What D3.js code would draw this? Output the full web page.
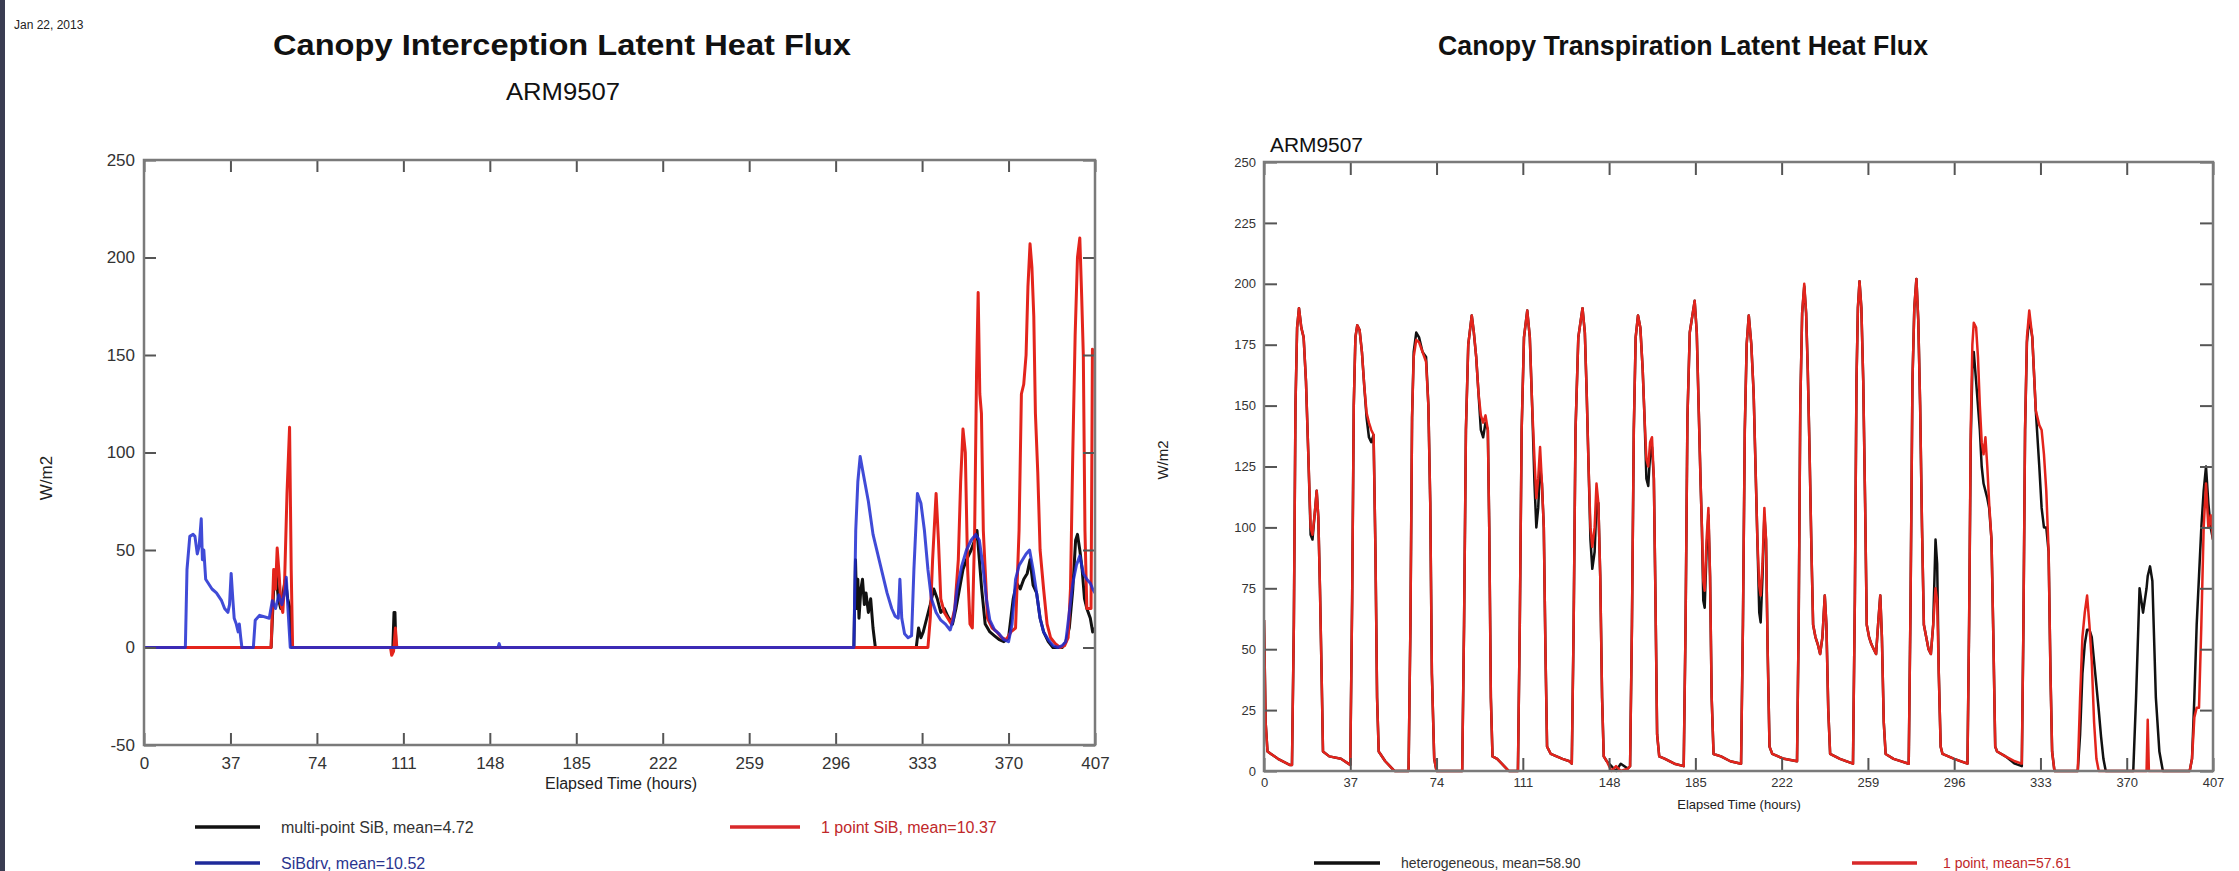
<!DOCTYPE html>
<html>
<head>
<meta charset="utf-8">
<script src="https://cdn.jsdelivr.net/npm/d3@7"></script>
<style>
  html, body { margin: 0; padding: 0; background: #fff; }
  svg { display: block; font-family: "Liberation Sans", Arial, sans-serif; }
</style>
</head>
<body>
<svg id="chart" width="2239" height="871"></svg>
<script>
// ---------------- DATA ----------------
const xTicks = [0, 37, 74, 111, 148, 185, 222, 259, 296, 333, 370, 407];
const leftYTicks = [-50, 0, 50, 100, 150, 200, 250];
const rightYTicks = [0, 25, 50, 75, 100, 125, 150, 175, 200, 225, 250];

const leftTitle = "Canopy Interception Latent Heat Flux";
const rightTitle = "Canopy Transpiration Latent Heat Flux";
const siteName = "ARM9507";
const dateLabel = "Jan 22, 2013";
const xLabel = "Elapsed Time (hours)";
const yLabel = "W/m2";

const leftLegend = ["multi-point SiB, mean=4.72", "1 point SiB, mean=10.37", "SiBdrv, mean=10.52"];
const rightLegend = ["heterogeneous, mean=58.90", "1 point, mean=57.61"];

// Interception: [hour, W/m2]
const multiPointSiB = [[0,0],[54.4,0],[55.5,30],[56.5,38],[57.5,25],[58.5,20],[59.5,28],[60.5,35],[61.5,25],[62.5,20],[63.3,0],
  [106.5,0],[107,18],[107.4,18],[107.8,0],[303.8,0],[304.5,45],[305,20],[305.5,35],[306,15],[306.8,30],[307.5,35],[308.3,22],
  [309,28],[310,18],[311,25],[312,10],[313,0],[330.5,0],[331.5,10],[332.5,5],[333.5,8],[335,15],[336.5,22],[338,30],[339.5,25],
  [341,18],[342.5,20],[344,16],[346,12],[347.5,20],[349,30],[350.5,40],[352,45],[354,50],[355.5,55],[356.5,60],[357.5,45],
  [358.5,30],[360,12],[362,8],[364,6],[366,4],[368,3],[370,5],[372,25],[373.5,33],[375,30],[376.5,35],[378,38],[379.2,45],
  [380.5,32],[382,28],[383.5,15],[385,8],[387,3],[389,0],[393,0],[394.5,3],[396,10],[397.5,30],[398.7,55],[399.5,58],
  [400.5,50],[401.5,40],[402.5,25],[403.5,20],[405,15],[406,8],[407,10]];

const onePointSiB = [[0,0],[54.4,0],[55.5,40],[56.3,30],[57,51],[57.8,38],[58.6,22],[59.4,18],[60.2,35],[61.2,79],[62.3,113],
  [63,40],[63.6,0],[105.5,0],[106,-4],[106.8,-2],[107.6,10],[108.2,0],[335.5,0],[336.5,15],[337.5,45],[339,79],[340,55],
  [341,25],[342.5,18],[344,15],[345.5,12],[347,20],[348.5,45],[349.5,85],[350.5,112],[351.5,100],[352.5,40],[353.5,12],
  [354.5,10],[355.5,60],[356.3,140],[357,182],[357.7,130],[358.4,120],[359.2,60],[360,40],[361,15],[363,10],[365,8],
  [367,5],[369,4],[371,8],[373,10],[374.5,60],[375.5,130],[376.5,135],[377.5,150],[378.3,185],[379.2,207],[380,195],
  [380.8,170],[381.5,120],[382.5,90],[383.5,50],[385,30],[386.5,12],[388,5],[390,2],[392,0],[394,1],[395.5,5],[396.5,30],
  [397.5,100],[398.5,160],[399.5,200],[400.5,210],[401.3,180],[402,150],[402.7,60],[403.5,20],[405.3,20],[405.9,153],[407,150]];

const sibDrv = [[0,0],[17.7,0],[18.4,40],[19.6,57],[21,58],[21.8,57],[22.8,48],[23.6,52],[24.5,66],[25,45],[25.6,50],
  [26.4,35],[29.1,30],[31,28],[33.2,24],[34.5,20],[35.9,18],[36.6,22],[37.3,38],[38,25],[38.6,15],[39.5,12],[40.3,8],
  [40.8,12],[41.4,5],[41.9,0],[46.8,0],[47.6,14],[49.5,16.5],[53.6,15],[54.9,24],[56.3,20],[57.7,27],[59,22],[60.5,30],
  [60.9,36],[61.6,20],[62.6,0],[151.5,0],[152,2],[152.5,0],[303.8,0],[304.6,60],[305.5,85],[306.5,98],[308,88],[310,75],
  [312,58],[314,48],[316,38],[318,28],[320,20],[321.5,16],[322.8,15],[323.5,35],[324.3,15],[325.5,7],[327,5],[328.5,6],
  [329.5,40],[331,79],[332.5,74],[334,60],[335.5,40],[337,25],[339,18],[341,14],[343,12],[345,9],[346.5,15],[348,30],
  [350,42],[352,50],[354,55],[356,58],[357.5,55],[359,42],[360.5,25],[362,14],[364,9],[366,7],[368,4],[370,3],[371.5,12],
  [373,35],[374.5,42],[376,45],[377.5,48],[379,50],[380.5,40],[382,28],[383.5,15],[385,8],[387,4],[389,1],[391,0],[393,1],
  [394.5,3],[396,18],[397.5,33],[399,42],[400.5,47],[402,38],[403.5,35],[405,33],[406,30],[407,28]];

// Transpiration: shared hours, two series
const transHours = [0,0.7,1.5,6,11,
  12,12.8,13.5,14.2,15,16,17,18,19,20,20.8,21.7,22.6,23.3,24,24.7,25.3,28,33,
  37,37.8,38.5,39.2,40,41,42,43,44,45,46,47,47.8,48.5,49.2,52,55,56,
  62,62.8,63.5,64.2,65.3,66.5,68,69.5,70.5,71.3,72,73,74,
  85,85.8,86.6,87.6,89.1,90,91,92,93,94,95,96,96.6,97.3,98,100,104,105,
  108.9,109.7,110.5,111.5,112.9,114,115,116,116.8,117.6,118.4,119.2,120,120.7,121.4,123,128,131,
  132,132.8,133.6,134.8,136.6,137.6,138.4,139.2,140,140.8,141.8,142.6,143.4,144.2,145,145.7,147,149,151,153,156,
  157,157.8,158.6,159.4,160.4,161.4,162.4,163.2,164,164.8,165.6,166.4,167.2,167.9,168.6,169.5,172,176,
  180,180.8,181.6,182.6,184.7,185.6,186.4,187.2,187.8,188.4,189,189.8,190.6,191.3,192,192.8,196,200,
  204.6,205.4,206.2,207,207.9,209,210,210.8,211.6,212.4,213,213.8,214.6,215.3,216,216.8,218,223,
  228.6,229.3,230,230.8,231.7,232.5,233.2,234,234.8,235.5,236.5,237.5,238.5,239.5,240.5,241.2,242,242.8,247,
  252.6,253.4,254.1,254.7,255.4,256.2,257,257.8,258.5,259.5,260.5,261.5,262.5,263.5,264.3,265,265.8,266.6,270,
  276.5,277.3,278.1,278.9,279.8,280.6,281.4,282.2,283,284,285,286,287,288,288.7,289.4,290.2,291,296,
  301.7,302.4,303.1,303.8,304.4,305.4,306.2,307,307.8,308.6,309.4,310.2,311,312,312.8,313.6,314.4,318,322,
  325,325.7,326.4,327.2,328.2,329.5,331,332.5,333.5,334.5,335.5,336.5,337.3,338,339,
  349,350,351,352,353,354,355,356,357,358,359,360,361,
  372.8,374,375.5,377,378.5,379,379.5,380,381,382.5,384,385.5,
  397,398,399,400,401,402,403,404,405,406,407];

const transOnePoint = [62,20,8,5,2.5,
  2.5,60,150,182,190,182,178,160,130,100,97,105,115,104,75,40,8,6,5,
  2.5,70,150,178,183,181,172,158,147,143,140,138,90,30,8,4,1,0,
  0,60,145,170,177,176,172,168,150,110,40,5,0,
  0,60,140,175,187,180,170,155,146,143,146,140,100,30,6,5,1,0,
  0,60,140,178,189,178,150,128,112,120,133,118,100,50,10,7,5,4,
  3,60,140,178,190,180,155,125,100,92,100,118,110,80,30,6,4,0,2,0,1,
  2,60,140,178,187,182,165,145,128,125,135,137,120,70,15,6,5,3,
  2,60,145,180,193,180,150,120,100,78,74,95,108,80,30,7,6,4,
  3,60,140,175,187,175,155,125,95,76,72,85,108,95,50,10,7,5,
  4,60,150,188,200,188,165,130,90,60,55,52,48,55,72,60,25,7,5,
  3,70,160,190,201,190,160,110,60,55,52,50,48,62,72,55,20,7,5,
  3,70,160,190,202,185,150,100,60,55,50,48,60,75,70,40,10,7,5,
  3,60,140,175,184,182,170,150,135,130,137,125,110,95,55,10,8,6,4,
  3,60,140,178,189,178,148,142,140,130,115,90,40,8,0,
  0,30,55,65,72,60,45,20,5,0,0,0,0,
  0,0,0,0,0,21,0,0,0,0,0,0,
  0,5,22,26,26,60,100,118,100,105,95];

const transHetero = [62,20,8,5,2.5,
  2.5,60,150,182,190,182,178,160,130,97,95,105,115,104,75,40,8,6,5,
  2.5,70,150,178,183,181,172,158,145,137,135,138,90,30,8,4,1,0,
  0,60,145,172,180,178,172,170,150,110,40,5,0,
  0,60,140,175,187,180,170,155,140,137,143,140,100,30,6,5,1,0,
  0,60,140,178,189,178,150,118,100,108,125,118,100,50,10,7,5,4,
  3,60,140,178,190,180,155,125,95,83,90,110,110,80,30,6,4,2,0,3,1,
  2,60,140,178,187,182,165,145,120,117,130,133,120,70,15,6,5,3,
  2,60,145,180,193,180,150,120,100,70,67,90,105,80,30,7,6,4,
  3,60,140,175,187,175,155,125,95,65,61,80,105,95,50,10,7,5,
  4,60,150,188,199,188,165,130,90,60,55,52,48,55,72,60,25,7,5,
  3,70,160,190,201,190,160,110,60,55,52,50,48,62,72,55,20,7,5,
  3,70,160,190,202,185,150,100,60,55,50,48,60,95,85,40,10,7,5,
  3,60,135,165,172,160,150,140,125,118,115,112,108,95,55,10,8,6,3,
  2,60,140,176,186,178,148,125,108,100,100,90,40,8,0,
  0,15,40,52,58,58,55,45,35,25,14,5,0,
  0,30,75,65,75,80,82,84,78,30,8,0,
  0,5,30,60,80,100,115,125,110,100,95];

// ---------------- DRAWING ----------------
const svg = d3.select("#chart");
svg.append("rect").attr("width", 2239).attr("height", 871).attr("fill", "#fff");
svg.append("rect").attr("x", 0).attr("y", 0).attr("width", 5).attr("height", 871).attr("fill", "#3a3c52");

const FRAME = "#7a7a7a";
const TEXT = "#222";
const fmt = d => String(d); // plain hyphen minus, as in the original

function drawFrame(g, x, y, opts) {
  const [x0, x1] = x.range();
  const [y0, y1] = y.range(); // y0 bottom, y1 top
  const bottom = g.append("g").attr("transform", `translate(0,${y0})`)
    .call(d3.axisBottom(x).tickValues(xTicks).tickSize(-opts.tick).tickPadding(opts.xPad).tickFormat(fmt));
  const top = g.append("g").attr("transform", `translate(0,${y1})`)
    .call(d3.axisTop(x).tickValues(xTicks).tickSize(-opts.tick).tickFormat(""));
  const left = g.append("g").attr("transform", `translate(${x0},0)`)
    .call(d3.axisLeft(y).tickValues(opts.yTicks).tickSize(-opts.tick).tickPadding(opts.yPad).tickFormat(fmt));
  const right = g.append("g").attr("transform", `translate(${x1},0)`)
    .call(d3.axisRight(y).tickValues(opts.yTicks).tickSize(-opts.tick).tickFormat(""));
  [bottom, top, left, right].forEach(a => {
    a.select(".domain").remove();
    a.selectAll(".tick line").attr("stroke", "#555").attr("stroke-width", 2);
    a.selectAll(".tick text").attr("fill", "#333").attr("font-size", opts.fontSize)
      .attr("font-family", '"Liberation Sans", Arial, sans-serif');
  });
  g.append("rect").attr("x", x0).attr("y", y1).attr("width", x1 - x0).attr("height", y0 - y1)
    .attr("fill", "none").attr("stroke", FRAME).attr("stroke-width", 2.5);
}

function drawSeries(g, x, y, data, color, width, clipId, opacity) {
  const line = d3.line().x(d => x(d[0])).y(d => y(d[1]));
  g.append("path").datum(data).attr("d", line).attr("fill", "none")
    .attr("stroke", color).attr("stroke-width", width).attr("stroke-linejoin", "round")
    .attr("stroke-opacity", opacity || 1).attr("clip-path", `url(#${clipId})`);
}

function addClip(id, x, y) {
  const [x0, x1] = x.range();
  const [y0, y1] = y.range();
  svg.append("clipPath").attr("id", id).append("rect")
    .attr("x", x0).attr("y", y1 - 2).attr("width", x1 - x0).attr("height", y0 - y1 + 4);
}

// ---- header ----
svg.append("text").attr("x", 14).attr("y", 29).attr("font-size", 12).attr("fill", TEXT).text(dateLabel);

svg.append("text").attr("x", 562).attr("y", 55).attr("text-anchor", "middle")
  .attr("font-size", 30).attr("font-weight", "bold").attr("fill", "#111")
  .attr("textLength", 578).attr("lengthAdjust", "spacingAndGlyphs").text(leftTitle);
svg.append("text").attr("x", 563).attr("y", 100).attr("text-anchor", "middle")
  .attr("font-size", 24).attr("fill", "#111")
  .attr("textLength", 114).attr("lengthAdjust", "spacingAndGlyphs").text(siteName);

svg.append("text").attr("x", 1683).attr("y", 55).attr("text-anchor", "middle")
  .attr("font-size", 27).attr("font-weight", "bold").attr("fill", "#111")
  .attr("textLength", 490).attr("lengthAdjust", "spacingAndGlyphs").text(rightTitle);
svg.append("text").attr("x", 1270).attr("y", 152)
  .attr("font-size", 20).attr("fill", "#111")
  .attr("textLength", 93).attr("lengthAdjust", "spacingAndGlyphs").text(siteName);

// ---- left chart ----
const xL = d3.scaleLinear().domain([0, 407]).range([144, 1095]);
const yL = d3.scaleLinear().domain([-50, 250]).range([745, 160]);
const gL = svg.append("g");
addClip("clipL", xL, yL);
drawSeries(gL, xL, yL, multiPointSiB, "#111111", 3, "clipL");
drawSeries(gL, xL, yL, onePointSiB, "#e3241c", 3, "clipL");
drawSeries(gL, xL, yL, sibDrv, "#1f2bd0", 3, "clipL", 0.85);
drawFrame(gL, xL, yL, { tick: 12, xPad: 12, yPad: 9, fontSize: 17, yTicks: leftYTicks });

svg.append("text").attr("x", 621).attr("y", 789).attr("text-anchor", "middle")
  .attr("font-size", 16).attr("fill", TEXT).text(xLabel);
svg.append("text").attr("transform", "translate(52,478) rotate(-90)").attr("text-anchor", "middle")
  .attr("font-size", 17).attr("fill", TEXT).text(yLabel);

// ---- right chart ----
const xR = d3.scaleLinear().domain([0, 407]).range([1264, 2213]);
const yR = d3.scaleLinear().domain([0, 250]).range([771, 162]);
const gR = svg.append("g");
addClip("clipR", xR, yR);
const heteroData = transHours.map((h, i) => [h, transHetero[i]]);
const onePtData = transHours.map((h, i) => [h, transOnePoint[i]]);
drawSeries(gR, xR, yR, heteroData, "#111111", 2.5, "clipR");
drawSeries(gR, xR, yR, onePtData, "#e3241c", 2.5, "clipR");
drawFrame(gR, xR, yR, { tick: 13, xPad: 7, yPad: 8, fontSize: 13, yTicks: rightYTicks });

svg.append("text").attr("x", 1739).attr("y", 809).attr("text-anchor", "middle")
  .attr("font-size", 13).attr("fill", TEXT).text(xLabel);
svg.append("text").attr("transform", "translate(1168,460) rotate(-90)").attr("text-anchor", "middle")
  .attr("font-size", 15).attr("fill", TEXT).text(yLabel);

// ---- legends ----
function legendItem(x1, x2, y, color, text, tx, fs, tcolor) {
  svg.append("line").attr("x1", x1).attr("x2", x2).attr("y1", y).attr("y2", y)
    .attr("stroke", color).attr("stroke-width", 3.5);
  svg.append("text").attr("x", tx).attr("y", y + fs * 0.36).attr("font-size", fs)
    .attr("fill", tcolor).text(text);
}
legendItem(195, 260, 827, "#111", leftLegend[0], 281, 16, "#333");
legendItem(730, 800, 827, "#d8292a", leftLegend[1], 821, 16, "#c0282a");
legendItem(195, 260, 863, "#1f2b9a", leftLegend[2], 281, 16, "#2a358f");
legendItem(1314, 1380, 863, "#111", rightLegend[0], 1401, 14, "#333");
legendItem(1852, 1917, 863, "#d8292a", rightLegend[1], 1943, 14, "#c0282a");
</script>
</body>
</html>
